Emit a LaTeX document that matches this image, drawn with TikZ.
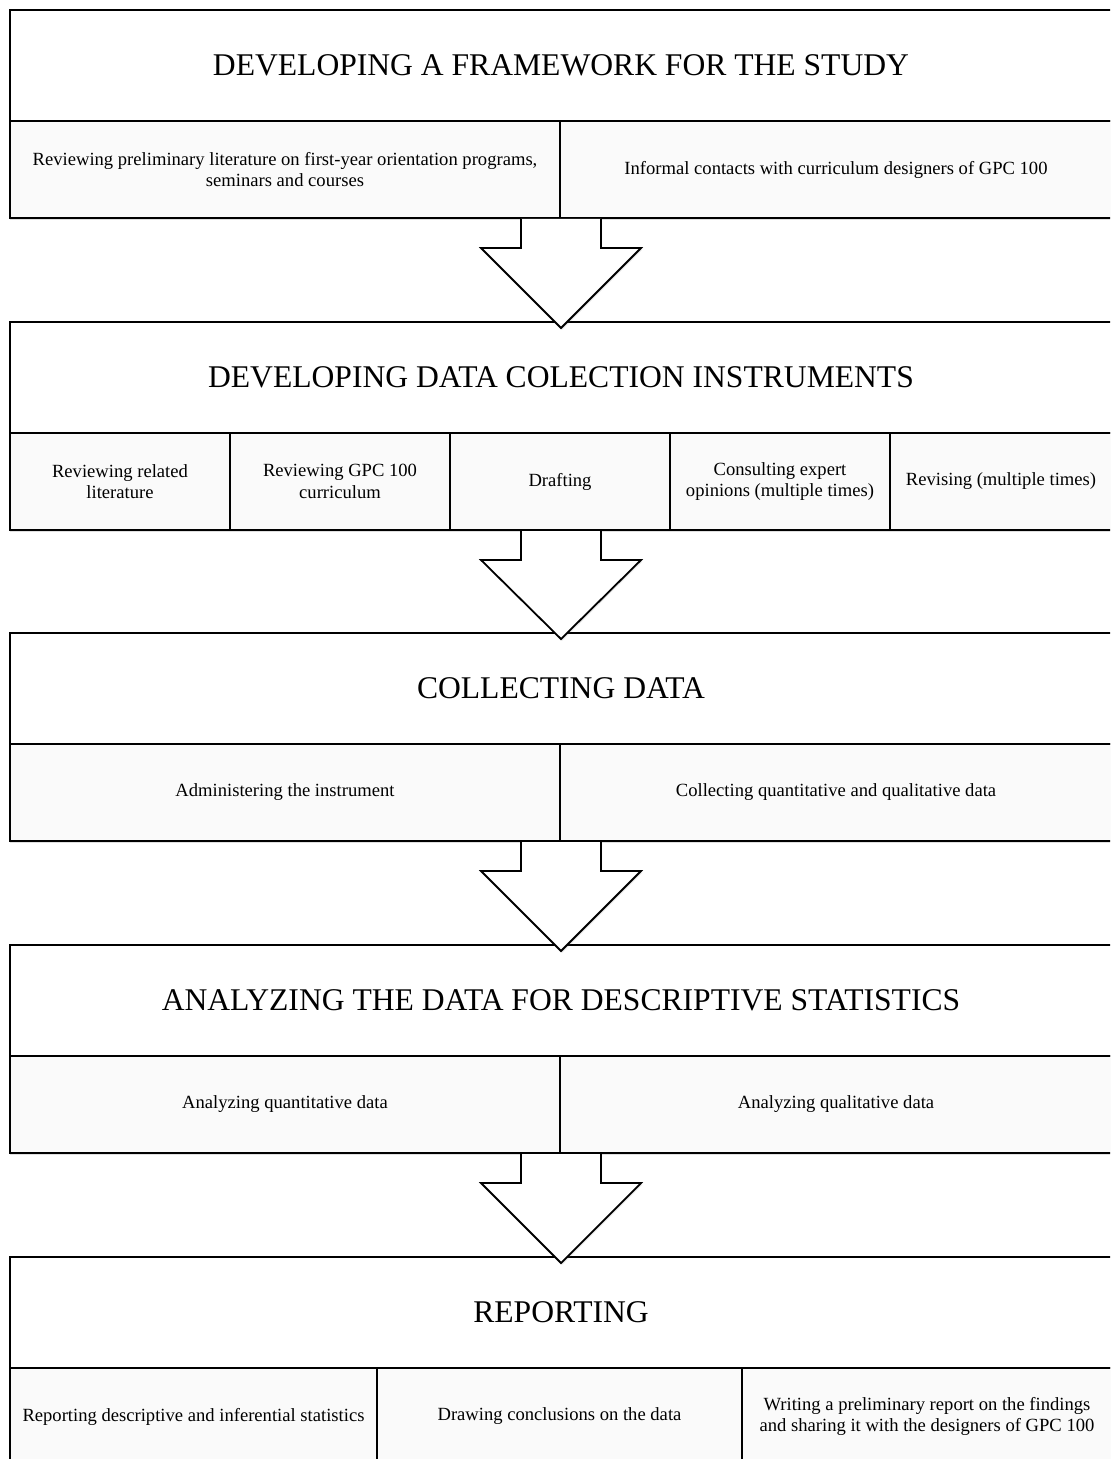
\documentclass[tikz,border=0pt]{standalone}
\usepackage{fontspec}
\setmainfont{Liberation Serif}
\usepackage{tikz}
\usetikzlibrary{calc,shadows}
\definecolor{subfill}{HTML}{FAFAFA}

\begin{document}
\begin{tikzpicture}[x=0.5pt,y=-0.5pt,
  titlebox/.style={draw, line width=0.9pt, fill=white, anchor=north west,
    minimum width=551pt, minimum height=55.5pt, inner sep=0pt, outer sep=0pt,
    font=\fontsize{15.8}{19}\selectfont},
  subbox/.style={draw, line width=0.9pt, fill=subfill, anchor=north west,
    minimum height=48.5pt, inner sep=2pt, outer sep=0pt, align=center,
    font=\fontsize{9.3}{10.6}\selectfont,
    drop shadow={shadow xshift=0pt, shadow yshift=-1.2pt, opacity=0.25}},
  bigarrow/.style={draw, line width=0.9pt, fill=white, line join=miter,
    drop shadow={shadow xshift=0.6pt, shadow yshift=-0.8pt, opacity=0.2}}]
\useasboundingbox (0,0) rectangle (1110,1459);
\clip (0,0) rectangle (1110,1459);

% framework
\node[titlebox] (t1) at (10,10) {DEVELOPING A FRAMEWORK FOR THE STUDY};
\node[subbox, minimum width=275pt] (s11) at (t1.south west) {Reviewing preliminary literature on first-year orientation programs,\\seminars and courses};
\node[subbox, minimum width=276pt] (s12) at (s11.north east) {Informal contacts with curriculum designers of GPC 100};

% instruments
\node[titlebox] (t2) at (10,322) {DEVELOPING DATA COLECTION INSTRUMENTS};
\node[subbox, minimum width=110pt] (s21) at (t2.south west) {Reviewing related\\literature};
\node[subbox, minimum width=110pt] (s22) at (s21.north east) {Reviewing GPC 100\\curriculum};
\node[subbox, minimum width=110pt] (s23) at (s22.north east) {Drafting};
\node[subbox, minimum width=110pt] (s24) at (s23.north east) {Consulting expert\\opinions (multiple times)};
\node[subbox, minimum width=111pt] (s25) at (s24.north east) {Revising (multiple times)};

% collecting
\node[titlebox] (t3) at (10,633) {COLLECTING DATA};
\node[subbox, minimum width=275pt] (s31) at (t3.south west) {Administering the instrument};
\node[subbox, minimum width=276pt] (s32) at (s31.north east) {Collecting quantitative and qualitative data};

% analyzing
\node[titlebox] (t4) at (10,945) {ANALYZING THE DATA FOR DESCRIPTIVE STATISTICS};
\node[subbox, minimum width=275pt] (s41) at (t4.south west) {Analyzing quantitative data};
\node[subbox, minimum width=276pt] (s42) at (s41.north east) {Analyzing qualitative data};

% reporting
\node[titlebox] (t5) at (10,1257) {REPORTING};
\node[subbox, minimum width=183.5pt] (s51) at (t5.south west) {Reporting descriptive and inferential statistics};
\node[subbox, minimum width=182.5pt] (s52) at (s51.north east) {Drawing conclusions on the data};
\node[subbox, minimum width=185pt] (s53) at (s52.north east) {Writing a preliminary report on the findings\\and sharing it with the designers of GPC 100};

% block arrows between the stages
\foreach \from/\top/\to in {s11/t1/t2, s21/t2/t3, s31/t3/t4, s41/t4/t5}{
  \coordinate (a) at (\top.center |- \from.south);
  \draw[bigarrow] ($(a)+(-40,1)$) -- ($(a)+(-40,30)$) -- ($(a)+(-80,30)$)
    -- ($(\to.north)+(0,6)$) -- ($(a)+(80,30)$) -- ($(a)+(40,30)$) -- ($(a)+(40,1)$);
}
\end{tikzpicture}
\end{document}
